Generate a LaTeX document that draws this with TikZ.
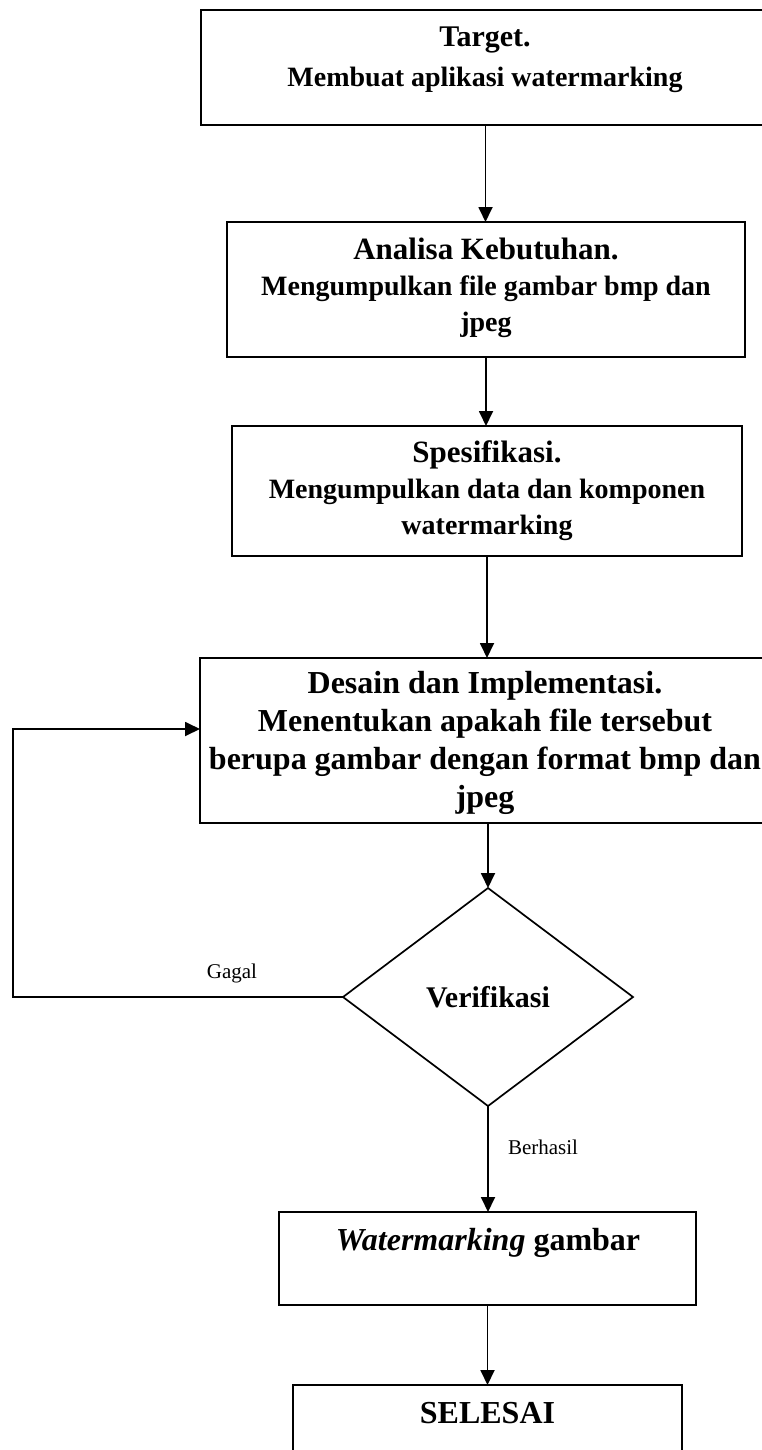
\documentclass[tikz,border=0pt]{standalone}
\usepackage{fontspec}
\setmainfont{Liberation Serif}
\usetikzlibrary{arrows.meta,shapes.geometric}
\begin{document}
\begin{tikzpicture}[x=1pt,y=-1pt,
  box/.style={draw, line width=1.7pt, rectangle, inner sep=0pt, outer sep=0pt},
  dia/.style={draw, line width=1.7pt, diamond, inner sep=0pt, outer sep=0pt},
  txt/.style={align=center, inner sep=0pt},
  conn/.style={line width=1.8pt, -{Triangle[length=15pt,width=14pt]}},
  lbl/.style={inner sep=0pt, font=\fontsize{21}{25}\selectfont}]
\useasboundingbox (0,0) rectangle (761,1450);

% boxes
\node[box, minimum width=569pt, minimum height=115pt] (target) at (485.5,67.5) {};
\node[box, minimum width=518pt, minimum height=135pt] (analisa) at (486,289.5) {};
\node[box, minimum width=510pt, minimum height=130pt] (spes) at (487,491) {};
\node[box, minimum width=580pt, minimum height=165pt] (desain) at (490,740.5) {};
\node[dia, minimum width=290pt, minimum height=218pt] (verif) at (488,997) {};
\node[box, minimum width=417pt, minimum height=93pt] (wm) at (487.5,1258.5) {};
\node[box, minimum width=389pt, minimum height=85pt] (sel) at (487.5,1427.5) {};

% texts
\node[txt, font=\bfseries\fontsize{28}{40}\selectfont] (ttarget) at (485,60)
  {{\fontsize{30}{40}\selectfont Target.}\\Membuat aplikasi watermarking};
\node[txt, font=\bfseries\fontsize{28}{36}\selectfont] (tanalisa) at (486,288)
  {{\fontsize{31}{36}\selectfont Analisa Kebutuhan.}\\Mengumpulkan file gambar bmp dan\\jpeg};
\node[txt, font=\bfseries\fontsize{28}{36}\selectfont] (tspes) at (487,491)
  {{\fontsize{31}{36}\selectfont Spesifikasi.}\\Mengumpulkan data dan komponen\\watermarking};
\node[txt, font=\bfseries\fontsize{32}{38}\selectfont] (tdesain) at (485,743)
  {Desain dan Implementasi.\\Menentukan apakah file tersebut\\berupa gambar dengan format bmp dan\\jpeg};
\node[txt, font=\bfseries\fontsize{30}{34}\selectfont] (tverif) at (488,997) {Verifikasi};
\node[txt, font=\bfseries\fontsize{32}{38}\selectfont] (twm) at (488,1243) {\textit{Watermarking} gambar};
\node[txt, font=\bfseries\fontsize{32}{38}\selectfont] (tsel) at (487.5,1413) {SELESAI};

% labels
\node[lbl] (gagal) at (232,973) {Gagal};
\node[lbl] (berhasil) at (543,1147) {Berhasil};

% connectors
\draw[conn] (target.south) -- (target.south |- analisa.north);
\draw[conn] (analisa.south) -- (analisa.south |- spes.north);
\draw[conn] (spes.south) -- (spes.south |- desain.north);
\draw[conn] (verif.north |- desain.south) -- (verif.north);
\draw[conn] (verif.south) -- (verif.south |- wm.north);
\draw[conn] (wm.south) -- (wm.south |- sel.north);
\coordinate (c1) at (13,997);
\coordinate (c2) at (13,729);
\draw[conn] (verif.west) -- (c1) -- (c2) -- (c2 -| desain.west);
\end{tikzpicture}
\end{document}
